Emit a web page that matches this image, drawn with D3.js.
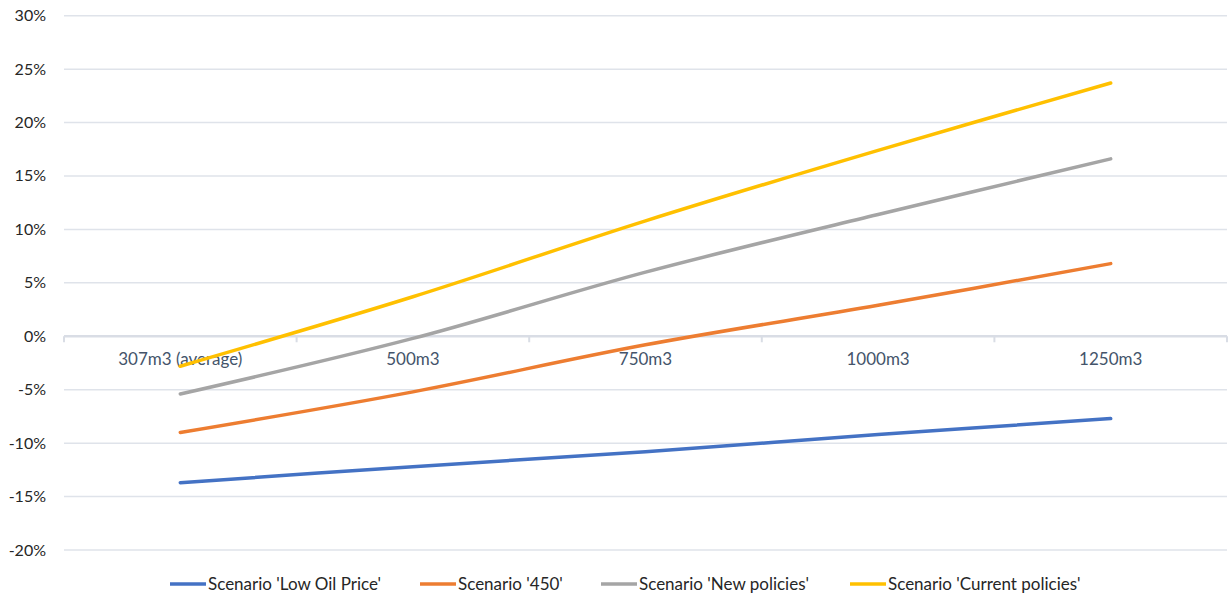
<!DOCTYPE html>
<head>
  <meta charset="utf-8" />
  <script src="https://d3js.org/d3.v7.min.js"></script>
  <style>
    body { margin: 0; background: #fff; }
    svg { display: block; font-family: Lato, "Open Sans", sans-serif; }
  </style>
</head>
<body>
  <svg width="1231" height="600"></svg>
  <script>
    var categories = ["307m3 (average)", "500m3", "750m3", "1000m3", "1250m3"];
    var seriesNames = ["Scenario 'Low Oil Price'", "Scenario '450'", "Scenario 'New policies'", "Scenario 'Current policies'"];
    var lowOilPrice = [-13.7, -12.2, -10.8, -9.2, -7.7];
    var scen450 = [-9.0, -5.2, -0.8, 2.9, 6.8];
    var newPolicies = [-5.4, -0.2, 6.0, 11.4, 16.6];
    var currentPolicies = [-2.8, 3.7, 10.8, 17.4, 23.7];
    var yTicks = [30, 25, 20, 15, 10, 5, 0, -5, -10, -15, -20];
    var colors = ["#4472C4", "#ED7D31", "#A5A5A5", "#FFC000"];

    var allSeries = [lowOilPrice, scen450, newPolicies, currentPolicies];

    var svg = d3.select("svg");
    var plotLeft = 64, plotRight = 1227, plotTop = 15.7, plotBottom = 550;

    var x = d3.scaleBand().domain(categories).range([plotLeft, plotRight]);
    var y = d3.scaleLinear().domain([-20, 30]).range([plotBottom, plotTop]);

    // gridlines
    svg.append("g")
      .selectAll("line")
      .data(yTicks.filter(function (d) { return d !== 0; }))
      .enter()
      .append("line")
      .attr("x1", plotLeft)
      .attr("x2", plotRight)
      .attr("y1", function (d) { return y(d); })
      .attr("y2", function (d) { return y(d); })
      .attr("stroke", "#dfe3ea")
      .attr("stroke-width", 1.5);

    // y labels
    svg.append("g")
      .selectAll("text")
      .data(yTicks)
      .enter()
      .append("text")
      .attr("x", 46)
      .attr("y", function (d) { return y(d) + 5.5; })
      .attr("text-anchor", "end")
      .attr("font-size", 16)
      .attr("fill", "#262626")
      .text(function (d) { return d + "%"; });

    // zero axis with ticks between categories
    var axis = svg.append("g");
    axis.append("line")
      .attr("x1", plotLeft)
      .attr("x2", plotRight)
      .attr("y1", y(0))
      .attr("y2", y(0))
      .attr("stroke", "#d9dde5")
      .attr("stroke-width", 2.5);
    var bounds = categories.map(function (c) { return x(c); }).concat([plotRight]);
    axis.selectAll("line.tick")
      .data(bounds)
      .enter()
      .append("line")
      .attr("class", "tick")
      .attr("x1", function (d) { return d; })
      .attr("x2", function (d) { return d; })
      .attr("y1", y(0))
      .attr("y2", y(0) + 6)
      .attr("stroke", "#d9dde5")
      .attr("stroke-width", 2);
    axis.selectAll("text")
      .data(categories)
      .enter()
      .append("text")
      .attr("x", function (d) { return x(d) + x.bandwidth() / 2; })
      .attr("y", y(0) + 29)
      .attr("text-anchor", "middle")
      .attr("font-size", 17)
      .attr("fill", "#44546A")
      .text(function (d) { return d; });

    // lines
    var line = d3.line()
      .x(function (d, i) { return x(categories[i]) + x.bandwidth() / 2; })
      .y(function (d) { return y(d); })
      .curve(d3.curveCatmullRom.alpha(0));

    svg.append("g")
      .selectAll("path")
      .data(allSeries)
      .enter()
      .append("path")
      .attr("d", line)
      .attr("fill", "none")
      .attr("stroke", function (d, i) { return colors[i]; })
      .attr("stroke-width", 3.5)
      .attr("stroke-linecap", "round");

    // legend
    var legendX = [170, 420, 601, 850];
    var legend = svg.append("g");
    seriesNames.forEach(function (name, i) {
      legend.append("line")
        .attr("x1", legendX[i])
        .attr("x2", legendX[i] + 36)
        .attr("y1", 584)
        .attr("y2", 584)
        .attr("stroke", colors[i])
        .attr("stroke-width", 3.5);
      legend.append("text")
        .attr("x", legendX[i] + 38)
        .attr("y", 590)
        .attr("font-size", 17)
        .attr("fill", "#262626")
        .text(name);
    });
  </script>
</body>
